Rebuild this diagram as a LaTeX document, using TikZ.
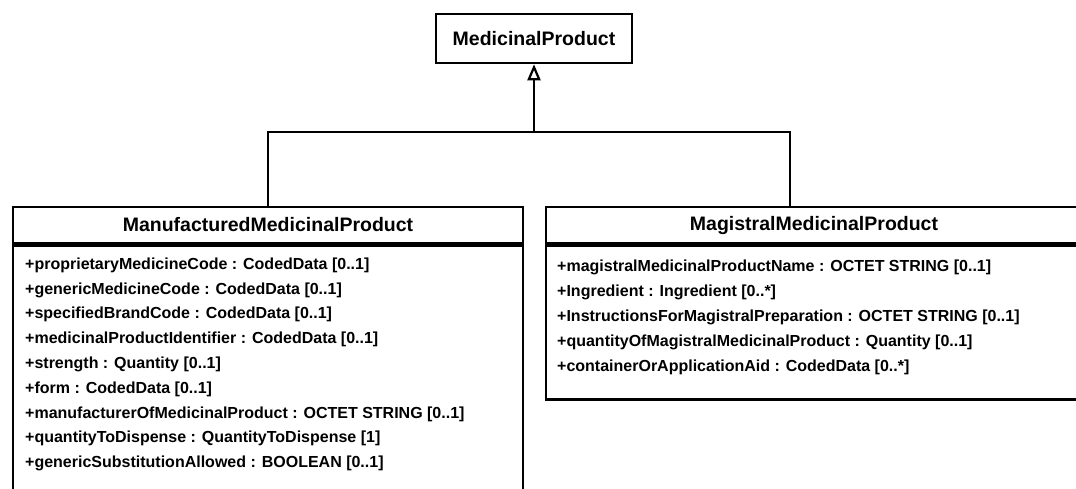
\documentclass[tikz,border=0pt]{standalone}
\usepackage{fontspec}
\setmainfont{Liberation Sans}
\usetikzlibrary{arrows.meta}
\begin{document}
\begin{tikzpicture}[x=1pt,y=-1pt,
  boxline/.style={draw=black,line width=2.6pt},
  titlebox/.style={boxline,rectangle,inner sep=0pt,font=\fontsize{19.5}{22}\selectfont\bfseries},
  bodybox/.style={boxline,rectangle,inner sep=0pt},
  attrs/.style={anchor=north west,inner sep=0pt,align=left,font=\fontsize{16}{24.8}\selectfont\bfseries},
  conn/.style={draw=black,line width=2.6pt},
  gen/.style={conn,-{Triangle[open,length=16pt,width=13pt,line width=2.2pt]}}
]
\useasboundingbox (0,0) rectangle (1076,488);
\fill[white] (0,0) rectangle (1076,488);
\clip (0,0) rectangle (1076,488);

% MedicinalProduct
\node[titlebox,minimum width=196pt,minimum height=49pt] (mp) at (534,38.5) {MedicinalProduct};

% ManufacturedMedicinalProduct
\node[titlebox,minimum width=510pt,minimum height=36pt] (mh) at (268,225) {ManufacturedMedicinalProduct};
\node[bodybox,minimum width=510pt,minimum height=280pt,anchor=north] (mb) at (mh.south) {};
\node[attrs] (ma) at (25,257.5) {+proprietaryMedicineCode : CodedData [0..1]\\
+genericMedicineCode : CodedData [0..1]\\
+specifiedBrandCode : CodedData [0..1]\\
+medicinalProductIdentifier : CodedData [0..1]\\
+strength : Quantity [0..1]\\
+form : CodedData [0..1]\\
+manufacturerOfMedicinalProduct : OCTET STRING [0..1]\\
+quantityToDispense : QuantityToDispense [1]\\
+genericSubstitutionAllowed : BOOLEAN [0..1]};

% MagistralMedicinalProduct
\node[titlebox,minimum width=536pt,minimum height=36pt] (gh) at (814,225) {MagistralMedicinalProduct};
\node[bodybox,minimum width=536pt,minimum height=154pt,anchor=north] (gb) at (gh.south) {};
\node[attrs] (ga) at (557,260) {+magistralMedicinalProductName : OCTET STRING [0..1]\\
+Ingredient : Ingredient [0..*]\\
+InstructionsForMagistralPreparation : OCTET STRING [0..1]\\
+quantityOfMagistralMedicinalProduct : Quantity [0..1]\\
+containerOrApplicationAid : CodedData [0..*]};

% Generalization
\coordinate (j) at (534,132);
\draw[conn] (mh.north) |- (j) -| (790,207);
\draw[gen] (j) -- (mp.south);
\end{tikzpicture}
\end{document}
